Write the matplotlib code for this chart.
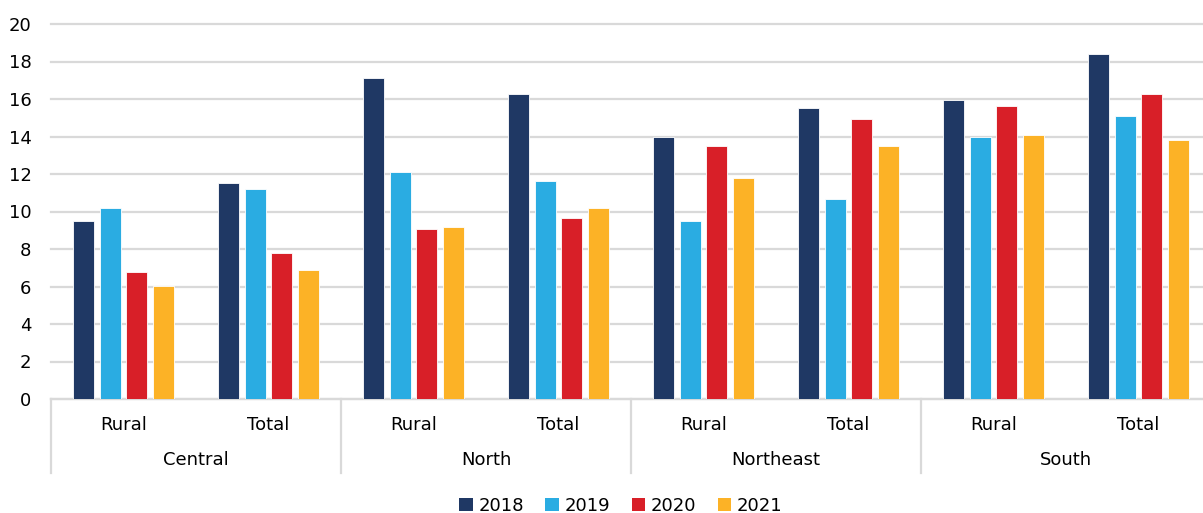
import numpy as np
import matplotlib
matplotlib.use("Agg")
import matplotlib.pyplot as plt
from matplotlib.patches import Patch

# ------------------------------------------------------------
# DATA
# ------------------------------------------------------------
regions = ["Central", "North", "Northeast", "South"]
areas = ["Rural", "Total"]
years = ["2018", "2019", "2020", "2021"]

# order: Central Rural, Central Total, North Rural, North Total, ...
v2018 = [9.5, 11.5, 17.1, 16.25, 13.95, 15.5, 15.95, 18.4]
v2019 = [10.2, 11.2, 12.1, 11.65, 9.5, 10.65, 13.95, 15.1]
v2020 = [6.8, 7.8, 9.05, 9.65, 13.5, 14.95, 15.65, 16.25]
v2021 = [6.05, 6.9, 9.2, 10.2, 11.8, 13.5, 14.1, 13.8]

colors = ["#1f3864", "#2aace2", "#d81f28", "#fcb226"]

# ------------------------------------------------------------
# PLOT
# ------------------------------------------------------------
plt.rcParams['font.family'] = ['DejaVu Sans']
fig = plt.figure(figsize=(12.03, 5.13), dpi=100)
# plot area runs a little past the right edge of the picture
ax = fig.add_axes([51 / 1203, 1 - 399 / 513, 1160 / 1203, 375 / 513])

x = np.arange(len(v2018))
width = 0.145
step = 0.183
series = [v2018, v2019, v2020, v2021]
for i, (vals, c) in enumerate(zip(series, colors)):
    ax.bar(x + (i - 1.5) * step, vals, width, color=c,
           edgecolor="white", linewidth=0.6, zorder=3)

ax.set_xlim(-0.5, len(x) - 0.5)
ax.set_ylim(0, 20)
ax.set_yticks(range(0, 21, 2))
ax.grid(axis="y", color="#d9d9d9", linewidth=1.6, zorder=0)
ax.set_axisbelow(True)
for gl in ax.get_ygridlines():
    gl.set_clip_on(False)

for s in ["top", "right", "left"]:
    ax.spines[s].set_visible(False)
ax.spines["bottom"].set_color("#d9d9d9")
ax.spines["bottom"].set_linewidth(1.6)

ax.set_xticks(x)
ax.set_xticklabels(areas * len(regions), fontsize=13)
ax.tick_params(axis="x", length=0, pad=12)
ax.tick_params(axis="y", length=0, pad=14, labelsize=13)

# group labels and separators
trans = ax.get_xaxis_transform()
for g, name in enumerate(regions):
    ax.text(2 * g + 0.5, -0.163, name, transform=trans, ha="center",
            va="center", fontsize=13)
for b in range(len(regions) + 1):
    ax.plot([2 * b - 0.5, 2 * b - 0.5], [0, -0.197], transform=trans,
            color="#d9d9d9", linewidth=1.6, clip_on=False)

handles = [Patch(facecolor=c, label=y) for c, y in zip(colors, years)]
fig.legend(handles=handles, loc="center", ncol=4,
           bbox_to_anchor=(0.516, 1 - 506 / 513), frameon=False,
           fontsize=13, handlelength=0.75, handleheight=0.75,
           handletextpad=0.3, columnspacing=1.2)

plt.savefig("out.png", dpi=100)
